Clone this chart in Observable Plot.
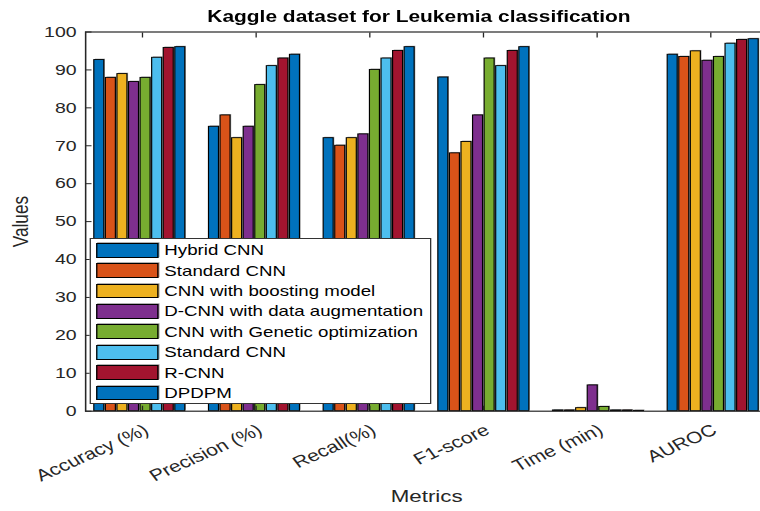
<!DOCTYPE html>
<html>
<head>
<meta charset="utf-8">
<script src="https://cdn.jsdelivr.net/npm/d3@7"></script>
<script src="https://cdn.jsdelivr.net/npm/@observablehq/plot@0.6"></script>
<style>
  html, body { margin: 0; padding: 0; background: #fff; overflow: hidden; width: 760px; height: 511px; }
  #fig { position: relative; width: 591px; height: 511px; transform: scaleX(1.2991); transform-origin: 0 0;
         font-family: "Liberation Sans", Arial, Helvetica, sans-serif; }
  #title { position: absolute; left: 0; top: 8.3px; width: 645px; text-align: center; font-weight: bold;
           font-size: 16.13px; line-height: 1; color: #000; white-space: nowrap; z-index: 2; }
  #stack { position: absolute; left: 0; top: 0; width: 591px; height: 511px; }
  #stack svg { position: absolute; left: 0; top: 0; max-width: none; overflow: visible; }
  #legend { position: absolute; left: 69.05px; top: 238px; width: 262.5px; height: 166px; box-sizing: border-box;
            border: 1px solid #333; background: #fff; padding-top: 1.1px; z-index: 3; }
  .row { display: flex; align-items: center; height: 20.39px; }
  .sw { width: 48px; height: 14.7px; box-sizing: border-box; border: 1px solid #000; margin-left: 3.85px;
        margin-right: 4.6px; box-shadow: 0.8px -0.8px 0 #a0a0a0; flex: none; }
  .lab { font-size: 14.4px; color: #000; white-space: nowrap; }
</style>
</head>
<body>
<div id="fig">
  <div id="stack"></div>
  <div id="title">Kaggle dataset for Leukemia classification</div>
  <div id="legend"></div>
</div>
<script>
// ---- data ----
const metrics = ["Accuracy (%)", "Precision (%)", "Recall(%)", "F1-score", "Time (min)", "AUROC"];
const models = ["Hybrid CNN", "Standard CNN", "CNN with boosting model", "D-CNN with data augmentation",
                "CNN with Genetic optimization", "Standard CNN", "R-CNN", "DPDPM"];
const colors = ["#0072BD", "#D95319", "#EDB120", "#7E2F8E", "#77AC30", "#4DBEEE", "#A2142F", "#0072BD"];

const hybridCNN      = [92.6, 75, 72, 88, 0.2, 94.0];
const standardCNN    = [87.9, 78, 70, 68, 0.2, 93.4];
const boostingCNN    = [88.9, 72, 72, 71, 0.8, 94.9];
const dcnnAugment    = [86.8, 75, 73, 78, 6.8, 92.4];
const geneticCNN     = [87.9, 86, 90, 93, 1.1, 93.4];
const standardCNN2   = [93.2, 91, 93, 91, 0.2, 96.9];
const rcnn           = [95.8, 93, 95, 95, 0.2, 97.9];
const dpdpm          = [96.0, 94, 96, 96, 0.1, 98.1];
const seriesValues = [hybridCNN, standardCNN, boostingCNN, dcnnAugment, geneticCNN, standardCNN2, rcnn, dpdpm];

const yTicks = [0, 10, 20, 30, 40, 50, 60, 70, 80, 90, 100];

// long table built from the arrays above
const rows = [];
seriesValues.forEach((vals, s) => vals.forEach((v, m) => rows.push({metric: metrics[m], s, value: v})));

// ---- shared layout ----
const W = 591, H = 511;
const margins = {marginLeft: 65.43, marginRight: 0.6, marginTop: 31.5, marginBottom: 100.3};
const groupScale = {domain: metrics, paddingInner: 0.18, paddingOuter: 0.0635, round: false};
const font = {fontFamily: '"Liberation Sans", Arial, Helvetica, sans-serif', fontSize: "15px", color: "#262626", overflow: "visible"};

// bars (faceted by metric)
const bars = Plot.plot({
  width: W, height: H, ...margins,
  style: {...font, background: "white"},
  fx: {...groupScale, axis: null, label: null},
  x: {domain: d3.range(models.length), paddingInner: 0.136, paddingOuter: 0.1316, round: false, axis: null},
  y: {domain: [0, 100], axis: null},
  color: {type: "ordinal", domain: d3.range(models.length), range: colors},
  marks: [
    Plot.barY(rows, {fx: "metric", x: "s", y: "value", fill: "#a3a3a3", dx: 0.9, dy: -0.9}),
    Plot.barY(rows, {fx: "metric", x: "s", y: "value", fill: "s", stroke: "#000", strokeWidth: 0.9})
  ]
});

// axes box, ticks and labels (same geometry)
const axes = Plot.plot({
  width: W, height: H, ...margins,
  style: {...font, background: "transparent"},
  x: groupScale,
  y: {domain: [0, 100]},
  marks: [
    Plot.frame({stroke: "#262626", strokeWidth: 1.2}),
    Plot.axisY(yTicks, {anchor: "left", tickSize: 0, tickPadding: 7, label: null, fill: "#262626"}),
    Plot.axisY(yTicks, {anchor: "left", tickSize: -5, tickFormat: () => "", label: null, stroke: "#262626"}),
    Plot.axisY(yTicks, {anchor: "right", tickSize: -5, tickFormat: () => "", label: null, stroke: "#262626"}),
    Plot.axisX({anchor: "bottom", tickSize: 0, tickPadding: 12, tickRotate: -30, lineAnchor: "top", fontSize: 16.3, label: null, fill: "#262626"}),
    Plot.axisX({anchor: "bottom", tickSize: -5, tickFormat: () => "", label: null, stroke: "#262626"}),
    Plot.axisX({anchor: "top", tickSize: -5, tickFormat: () => "", label: null, stroke: "#262626"}),
    Plot.text(["Values"], {text: d => d, frameAnchor: "left", textAnchor: "middle", lineAnchor: "middle", dx: -50, rotate: -90, fontSize: 17.2, fill: "#262626"}),
    Plot.text(["Metrics"], {text: d => d, frameAnchor: "bottom", textAnchor: "middle", lineAnchor: "middle", dy: 85.3, fontSize: 17.2, fill: "#262626"})
  ]
});

const stack = document.getElementById("stack");
stack.append(bars, axes);

// legend
const legend = d3.select("#legend");
models.forEach((name, i) => {
  const row = legend.append("div").attr("class", "row");
  row.append("div").attr("class", "sw").style("background", colors[i]);
  row.append("div").attr("class", "lab").text(name);
});
</script>
</body>
</html>
